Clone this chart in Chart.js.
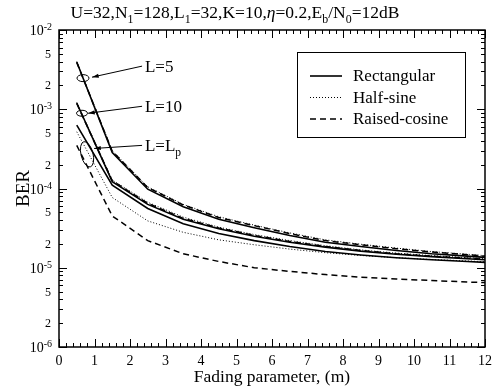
<!DOCTYPE html>
<html>
<head>
<meta charset="utf-8">
<script src="https://cdn.jsdelivr.net/npm/chart.js@4"></script>
<style>
  body { margin: 0; background: #fff; }
  canvas { display: block; }
</style>
</head>
<body>
<canvas id="ber_chart" width="493" height="387"></canvas>
<script>
// Fading parameter m (x axis).
var fading = [0.5, 1.5, 2.5, 3.5, 4.5, 5.5, 6.5, 7.5, 8.5, 9.5, 10.5, 11.5, 12];

// BER, L=5.
var rect_l5   = [3.95e-3, 2.85e-4, 9.8e-5, 5.9e-5, 4.1e-5, 3.2e-5, 2.55e-5, 2.1e-5, 1.85e-5, 1.65e-5, 1.5e-5, 1.4e-5, 1.35e-5];
var half_l5   = [4.0e-3, 3.0e-4, 1.05e-4, 6.3e-5, 4.4e-5, 3.45e-5, 2.75e-5, 2.25e-5, 1.98e-5, 1.77e-5, 1.6e-5, 1.48e-5, 1.42e-5];
var raised_l5 = [3.9e-3, 2.95e-4, 1.03e-4, 6.2e-5, 4.3e-5, 3.4e-5, 2.7e-5, 2.2e-5, 1.95e-5, 1.74e-5, 1.58e-5, 1.46e-5, 1.4e-5];

// BER, L=10.
var rect_l10   = [1.2e-3, 1.22e-4, 6.3e-5, 4.1e-5, 3.1e-5, 2.5e-5, 2.1e-5, 1.82e-5, 1.62e-5, 1.48e-5, 1.38e-5, 1.3e-5, 1.26e-5];
var half_l10   = [1.22e-3, 1.28e-4, 6.7e-5, 4.35e-5, 3.25e-5, 2.62e-5, 2.2e-5, 1.9e-5, 1.68e-5, 1.53e-5, 1.42e-5, 1.34e-5, 1.3e-5];
var raised_l10 = [1.18e-3, 1.25e-4, 6.5e-5, 4.2e-5, 3.18e-5, 2.56e-5, 2.15e-5, 1.86e-5, 1.65e-5, 1.5e-5, 1.4e-5, 1.32e-5, 1.28e-5];

// BER, L=Lp.
var rect_lp   = [6.3e-4, 1.1e-4, 5.6e-5, 3.6e-5, 2.7e-5, 2.2e-5, 1.85e-5, 1.6e-5, 1.45e-5, 1.34e-5, 1.26e-5, 1.2e-5, 1.17e-5];
var half_lp   = [5.2e-4, 7.7e-5, 3.9e-5, 2.8e-5, 2.25e-5, 1.95e-5, 1.72e-5, 1.55e-5, 1.43e-5, 1.34e-5, 1.27e-5, 1.22e-5, 1.19e-5];
var raised_lp = [3.5e-4, 4.5e-5, 2.2e-5, 1.5e-5, 1.2e-5, 1.0e-5, 9.0e-6, 8.2e-6, 7.6e-6, 7.2e-6, 6.9e-6, 6.6e-6, 6.5e-6];

// Legend names and tick labels.
var pulse_names = ['Rectangular', 'Half-sine', 'Raised-cosine'];
var x_tick_labels = ['0', '1', '2', '3', '4', '5', '6', '7', '8', '9', '10', '11', '12'];
var y_decades = [-6, -5, -4, -3, -2];
var y_minor_labels = [2, 5];

var SERIF = '"Liberation Serif", "DejaVu Serif", serif';

// Line style for each pulse shape.
var styles = [
    { width: 1.6, dash: [] },
    { width: 1.0, dash: [1, 2] },
    { width: 1.5, dash: [6, 4] }
];

function make_set(values, shape) {
    return {
        data: fading.map(function(m, i) { return { x: m, y: values[i] }; }),
        borderColor: '#000',
        borderWidth: styles[shape].width,
        borderDash: styles[shape].dash,
        pointRadius: 0,
        fill: false,
        tension: 0
    };
}

// Draw text made of parts, some of them subscript / italic.
function draw_parts(ctx, parts, x, y, size, align) {
    var total = 0;
    parts.forEach(function(p) {
        ctx.font = (p[1] === 'ital' ? 'italic ' : '') + (p[1] === 'sub' ? size * 0.68 : size) + 'px ' + SERIF;
        total += ctx.measureText(p[0]).width;
    });
    var cx = align === 'center' ? x - total / 2 : x;
    parts.forEach(function(p) {
        var sub = p[1] === 'sub';
        ctx.font = (p[1] === 'ital' ? 'italic ' : '') + (sub ? size * 0.68 : size) + 'px ' + SERIF;
        ctx.fillText(p[0], cx, y + (sub ? size * 0.28 : 0));
        cx += ctx.measureText(p[0]).width;
    });
}

var frame_plugin = {
    id: 'frame',
    afterDraw: function(chart) {
        var ctx = chart.ctx;
        var xs = chart.scales.x, ys = chart.scales.y;
        var a = chart.chartArea;
        function P(x, y) { return [xs.getPixelForValue(x), ys.getPixelForValue(y)]; }

        ctx.save();
        ctx.strokeStyle = '#000';
        ctx.fillStyle = '#000';
        ctx.setLineDash([]);

        // Plot frame.
        ctx.lineWidth = 1.5;
        ctx.strokeRect(a.left, a.top, a.right - a.left, a.bottom - a.top);

        // X ticks, inward on bottom and top.
        ctx.lineWidth = 1;
        for (var i = 0; i <= 60; i++) {
            var px = Math.round(xs.getPixelForValue(i * 0.2)) + 0.5;
            var len = i % 5 === 0 ? 8 : 4;
            ctx.beginPath();
            ctx.moveTo(px, a.bottom); ctx.lineTo(px, a.bottom - len);
            ctx.moveTo(px, a.top); ctx.lineTo(px, a.top + len);
            ctx.stroke();
        }

        // Y ticks, inward on left and right.
        for (var e = -6; e <= -2; e++) {
            for (var m = 1; m <= 9; m++) {
                var v = m * Math.pow(10, e);
                if (v > 1.0001e-2) break;
                var py = Math.round(ys.getPixelForValue(v)) + 0.5;
                var ln = m === 1 ? 8 : 4;
                ctx.beginPath();
                ctx.moveTo(a.left, py); ctx.lineTo(a.left + ln, py);
                ctx.moveTo(a.right, py); ctx.lineTo(a.right - ln, py);
                ctx.stroke();
            }
        }

        // X tick labels.
        ctx.font = '14px ' + SERIF;
        ctx.textAlign = 'center';
        ctx.textBaseline = 'alphabetic';
        x_tick_labels.forEach(function(t, k) {
            ctx.fillText(t, xs.getPixelForValue(k), a.bottom + 18);
        });

        // Y tick labels: decades with superscript, and the 2 and 5 marks.
        y_decades.forEach(function(e) {
            var py = ys.getPixelForValue(Math.pow(10, e));
            ctx.textAlign = 'right';
            ctx.font = '10px ' + SERIF;
            var sup = '-' + Math.abs(e);
            ctx.fillText(sup, a.left - 7, py);
            var sw = ctx.measureText(sup).width;
            ctx.font = '14px ' + SERIF;
            ctx.fillText('10', a.left - 7 - sw, py + 5);
            if (e < -2) {
                y_minor_labels.forEach(function(m) {
                    var pm = ys.getPixelForValue(m * Math.pow(10, e));
                    ctx.font = '12px ' + SERIF;
                    ctx.fillText(String(m), a.left - 8, pm + 4);
                });
            }
        });

        // Axis titles.
        ctx.textAlign = 'center';
        ctx.font = '17.5px ' + SERIF;
        ctx.fillText('Fading parameter, (m)', (a.left + a.right) / 2, a.bottom + 35);
        ctx.save();
        ctx.translate(29, (a.top + a.bottom) / 2);
        ctx.rotate(-Math.PI / 2);
        ctx.font = '19px ' + SERIF;
        ctx.fillText('BER', 0, 0);
        ctx.restore();

        // Chart title with subscripts.
        ctx.textAlign = 'left';
        draw_parts(ctx, [['U=32,N', ''], ['1', 'sub'], ['=128,L', ''], ['1', 'sub'], ['=32,K=10,', ''],
            ['η', 'ital'], ['=0.2,E', ''], ['b', 'sub'], ['/N', ''], ['0', 'sub'], ['=12dB', '']],
            235, 18, 17.5, 'center');

        // Legend box.
        ctx.lineWidth = 1;
        ctx.strokeRect(297.5, 52.5, 168, 85);
        pulse_names.forEach(function(name, k) {
            var ry = 76 + k * 21.5;
            ctx.lineWidth = styles[k].width;
            ctx.setLineDash(styles[k].dash);
            ctx.beginPath();
            ctx.moveTo(310, ry); ctx.lineTo(342, ry);
            ctx.stroke();
            ctx.setLineDash([]);
            ctx.font = '17px ' + SERIF;
            ctx.textAlign = 'left';
            ctx.fillText(name, 353, ry + 5);
        });

        // Curve group labels with ellipses and arrows.
        var notes = [
            { parts: [['L=5', '']], text: [2.42, 3.5e-3], from: [2.34, 3.5e-3], to: [0.93, 2.54e-3], ell: [0.676, 2.47e-3], rx: 6, ry: 3.5, rot: 0 },
            { parts: [['L=10', '']], text: [2.42, 1.09e-3], from: [2.34, 1.09e-3], to: [0.82, 8.9e-4], ell: [0.648, 8.9e-4], rx: 5.5, ry: 3, rot: 0 },
            { parts: [['L=L', ''], ['p', 'sub']], text: [2.42, 3.5e-4], from: [2.34, 3.5e-4], to: [0.99, 3.2e-4], ell: [0.79, 2.7e-4], rx: 6, ry: 13, rot: -0.25 }
        ];
        ctx.lineWidth = 1;
        notes.forEach(function(n) {
            var t = P(n.text[0], n.text[1]);
            draw_parts(ctx, n.parts, t[0], t[1] + 6, 17, 'left');
            var f = P(n.from[0], n.from[1]), g = P(n.to[0], n.to[1]);
            ctx.beginPath();
            ctx.moveTo(f[0], f[1]); ctx.lineTo(g[0], g[1]);
            ctx.stroke();
            var ang = Math.atan2(g[1] - f[1], g[0] - f[0]);
            ctx.beginPath();
            ctx.moveTo(g[0], g[1]);
            ctx.lineTo(g[0] - 7 * Math.cos(ang - 0.3), g[1] - 7 * Math.sin(ang - 0.3));
            ctx.lineTo(g[0] - 7 * Math.cos(ang + 0.3), g[1] - 7 * Math.sin(ang + 0.3));
            ctx.closePath();
            ctx.fill();
            var c = P(n.ell[0], n.ell[1]);
            ctx.beginPath();
            ctx.ellipse(c[0], c[1], n.rx, n.ry, n.rot, 0, Math.PI * 2);
            ctx.stroke();
        });

        ctx.restore();
    }
};

new Chart(document.getElementById('ber_chart'), {
    type: 'line',
    data: {
        datasets: [
            make_set(rect_l5, 0), make_set(half_l5, 1), make_set(raised_l5, 2),
            make_set(rect_l10, 0), make_set(half_l10, 1), make_set(raised_l10, 2),
            make_set(rect_lp, 0), make_set(half_lp, 1), make_set(raised_lp, 2)
        ]
    },
    options: {
        responsive: false,
        animation: false,
        layout: { padding: { left: 59, right: 8, top: 30, bottom: 40 } },
        scales: {
            x: { type: 'linear', min: 0, max: 12, display: false },
            y: { type: 'logarithmic', min: 1e-6, max: 1e-2, display: false }
        },
        plugins: {
            legend: { display: false },
            title: { display: false },
            tooltip: { enabled: false }
        }
    },
    plugins: [frame_plugin]
});
</script>
</body>
</html>
